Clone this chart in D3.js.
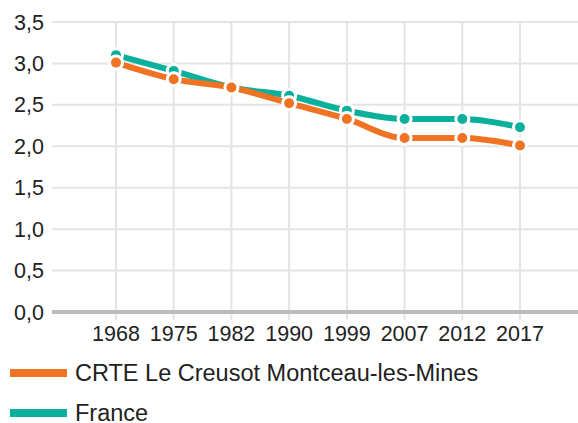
<!DOCTYPE html>
<html>
<head>
<meta charset="utf-8">
<script src="https://cdn.jsdelivr.net/npm/d3@7"></script>
<style>
  body { margin: 0; background: #fff; }
</style>
</head>
<body>
<div id="chart"></div>
<script>
const width = 578, height = 423;

// Data
const years = ['1968', '1975', '1982', '1990', '1999', '2007', '2012', '2017'];
const crteValues = [3.01, 2.81, 2.71, 2.52, 2.33, 2.10, 2.10, 2.01];
const franceValues = [3.10, 2.91, 2.71, 2.61, 2.43, 2.33, 2.33, 2.23];
const yTicks = [0, 0.5, 1, 1.5, 2, 2.5, 3, 3.5];
const seriesNames = ['CRTE Le Creusot Montceau-les-Mines', 'France'];

const orange = '#f07223';
const teal = '#0bb09c';
const gridColor = '#e4e4e4';
const fontFamily = '"Liberation Sans", Arial, Helvetica, sans-serif';

const plot = {left: 52, right: 578, top: 22, bottom: 312};

const svg = d3.select('#chart').append('svg')
  .attr('width', width)
  .attr('height', height)
  .attr('font-family', fontFamily);

const x = d3.scalePoint()
  .domain(years)
  .range([116, 520]);

const y = d3.scaleLinear()
  .domain([0, 3.5])
  .range([plot.bottom, plot.top]);

const fmt = d => d.toFixed(1).replace('.', ',');

// Horizontal grid
svg.append('g')
  .selectAll('line')
  .data(yTicks.filter(d => d > 0))
  .join('line')
    .attr('x1', plot.left)
    .attr('x2', plot.right)
    .attr('y1', d => y(d))
    .attr('y2', d => y(d))
    .attr('stroke', gridColor)
    .attr('stroke-width', 2);

// Vertical grid
svg.append('g')
  .selectAll('line')
  .data(years)
  .join('line')
    .attr('x1', d => x(d))
    .attr('x2', d => x(d))
    .attr('y1', plot.top)
    .attr('y2', plot.bottom + 8)
    .attr('stroke', gridColor)
    .attr('stroke-width', 2);

// Baseline
svg.append('line')
  .attr('x1', plot.left)
  .attr('x2', plot.right)
  .attr('y1', y(0))
  .attr('y2', y(0))
  .attr('stroke', '#bbbbbb')
  .attr('stroke-width', 4);

// Y labels
svg.append('g')
  .selectAll('text')
  .data(yTicks)
  .join('text')
    .attr('x', 44)
    .attr('y', d => y(d))
    .attr('dy', '0.35em')
    .attr('text-anchor', 'end')
    .attr('font-size', 21.5)
    .attr('fill', '#222')
    .text(fmt);

// X labels
svg.append('g')
  .selectAll('text')
  .data(years)
  .join('text')
    .attr('x', d => x(d))
    .attr('y', 333)
    .attr('dy', '0.35em')
    .attr('text-anchor', 'middle')
    .attr('font-size', 21.5)
    .attr('fill', '#222')
    .text(d => d);

const line = d3.line()
  .x(d => x(d.year))
  .y(d => y(d.value))
  .curve(d3.curveMonotoneX);

const series = [
  {name: seriesNames[1], color: teal, values: franceValues},
  {name: seriesNames[0], color: orange, values: crteValues}
];

series.forEach(s => {
  const pts = years.map((year, i) => ({year, value: s.values[i]}));
  svg.append('path')
    .datum(pts)
    .attr('fill', 'none')
    .attr('stroke', s.color)
    .attr('stroke-width', 6)
    .attr('d', line);
  svg.append('g')
    .selectAll('circle')
    .data(pts)
    .join('circle')
      .attr('cx', d => x(d.year))
      .attr('cy', d => y(d.value))
      .attr('r', 6.5)
      .attr('fill', s.color)
      .attr('stroke', '#fff')
      .attr('stroke-width', 3);
});

// Legend
const legend = svg.append('g')
  .selectAll('g')
  .data([{name: seriesNames[0], color: orange}, {name: seriesNames[1], color: teal}])
  .join('g')
    .attr('transform', (d, i) => `translate(0, ${373 + i * 40})`);
legend.append('rect')
  .attr('x', 10)
  .attr('y', -4)
  .attr('width', 57)
  .attr('height', 8)
  .attr('fill', d => d.color);
legend.append('text')
  .attr('x', 75)
  .attr('y', 0)
  .attr('dy', '0.35em')
  .attr('font-size', 23.5)
  .attr('fill', '#222')
  .text(d => d.name);
</script>
</body>
</html>
